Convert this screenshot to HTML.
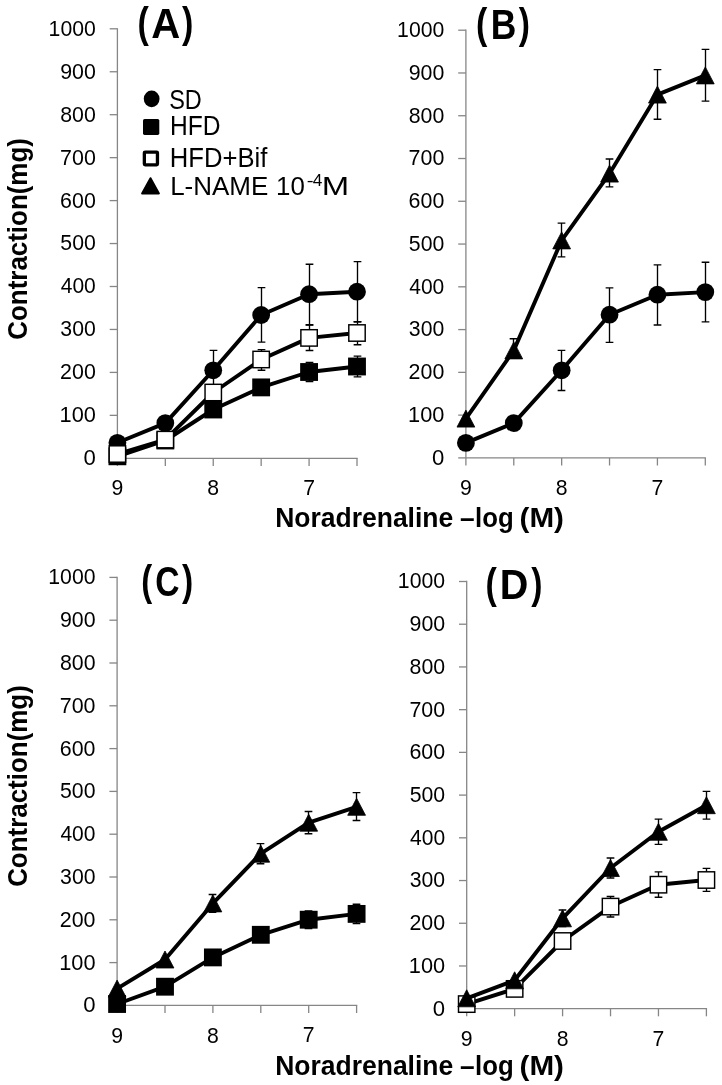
<!DOCTYPE html>
<html><head><meta charset="utf-8"><style>
html,body{margin:0;padding:0;background:#fff;}
body{width:722px;height:1085px;overflow:hidden;}
svg{display:block;will-change:transform;font-family:"Liberation Sans",sans-serif;}
text{fill:#000;}
</style></head><body>
<svg width="722" height="1085" viewBox="0 0 722 1085">
<rect width="722" height="1085" fill="#fff"/>
<g stroke="#868686" stroke-width="1.3" fill="none" shape-rendering="auto">
<path d="M117.40 28.15V458.30"/>
<path d="M109.70 458.30H117.40"/>
<path d="M109.70 415.35H117.40"/>
<path d="M109.70 372.40H117.40"/>
<path d="M109.70 329.45H117.40"/>
<path d="M109.70 286.50H117.40"/>
<path d="M109.70 243.55H117.40"/>
<path d="M109.70 200.60H117.40"/>
<path d="M109.70 157.65H117.40"/>
<path d="M109.70 114.70H117.40"/>
<path d="M109.70 71.75H117.40"/>
<path d="M109.70 28.80H117.40"/>
<path d="M117.40 458.30H357.65"/>
<path d="M117.40 458.30V465.90"/>
<path d="M165.32 458.30V465.90"/>
<path d="M213.24 458.30V465.90"/>
<path d="M261.16 458.30V465.90"/>
<path d="M309.08 458.30V465.90"/>
<path d="M357.00 458.30V465.90"/>
</g>
<text x="83.53" y="465.20" font-size="21.20" font-weight="normal" textLength="12.33" lengthAdjust="spacingAndGlyphs">0</text>
<text x="59.54" y="422.25" font-size="21.20" font-weight="normal" textLength="36.31" lengthAdjust="spacingAndGlyphs">100</text>
<text x="60.12" y="379.30" font-size="21.20" font-weight="normal" textLength="35.71" lengthAdjust="spacingAndGlyphs">200</text>
<text x="60.39" y="336.35" font-size="21.20" font-weight="normal" textLength="35.44" lengthAdjust="spacingAndGlyphs">300</text>
<text x="60.72" y="293.40" font-size="21.20" font-weight="normal" textLength="35.10" lengthAdjust="spacingAndGlyphs">400</text>
<text x="60.35" y="250.45" font-size="21.20" font-weight="normal" textLength="35.48" lengthAdjust="spacingAndGlyphs">500</text>
<text x="60.11" y="207.50" font-size="21.20" font-weight="normal" textLength="35.72" lengthAdjust="spacingAndGlyphs">600</text>
<text x="60.10" y="164.55" font-size="21.20" font-weight="normal" textLength="35.73" lengthAdjust="spacingAndGlyphs">700</text>
<text x="60.27" y="121.60" font-size="21.20" font-weight="normal" textLength="35.56" lengthAdjust="spacingAndGlyphs">800</text>
<text x="60.20" y="78.65" font-size="21.20" font-weight="normal" textLength="35.64" lengthAdjust="spacingAndGlyphs">900</text>
<text x="48.58" y="35.70" font-size="21.20" font-weight="normal" textLength="47.25" lengthAdjust="spacingAndGlyphs">1000</text>
<text x="111.51" y="495.40" font-size="21.20">9</text>
<text x="207.34" y="495.40" font-size="21.20">8</text>
<text x="303.17" y="495.19" font-size="21.20">7</text>
<text x="151.20" y="38.30" font-size="42.59" font-weight="bold" textLength="28.96" lengthAdjust="spacingAndGlyphs">A</text>
<text x="137.61" y="37.10" font-size="42.59" font-weight="bold" textLength="11.33" lengthAdjust="spacingAndGlyphs">(</text>
<text x="182.07" y="37.10" font-size="42.59" font-weight="bold" textLength="11.33" lengthAdjust="spacingAndGlyphs">)</text>
<polyline points="117.40,442.80 165.32,423.10 213.24,370.30 261.16,315.00 309.08,294.20 357.00,291.70" fill="none" stroke="#000" stroke-width="3.90" stroke-linejoin="round" stroke-linecap="round"/>
<path d="M117.50 438.00V447.60M113.65 438.00H121.35M113.65 447.60H121.35M165.50 418.00V428.20M161.65 418.00H169.35M161.65 428.20H169.35M213.50 350.40V390.20M209.65 350.40H217.35M209.65 390.20H217.35M261.50 287.60V342.10M257.65 287.60H265.35M257.65 342.10H265.35M309.50 264.20V324.70M305.65 264.20H313.35M305.65 324.70H313.35M357.50 261.60V321.70M353.65 261.60H361.35M353.65 321.70H361.35" stroke="#000" stroke-width="1.35" fill="none"/>
<circle cx="117.40" cy="442.80" r="8.90" fill="#000"/>
<circle cx="165.32" cy="423.10" r="8.90" fill="#000"/>
<circle cx="213.24" cy="370.30" r="8.90" fill="#000"/>
<circle cx="261.16" cy="315.00" r="8.90" fill="#000"/>
<circle cx="309.08" cy="294.20" r="8.90" fill="#000"/>
<circle cx="357.00" cy="291.70" r="8.90" fill="#000"/>
<polyline points="117.40,456.30 165.32,440.50 213.24,409.50 261.16,387.40 309.08,372.00 357.00,366.50" fill="none" stroke="#000" stroke-width="3.90" stroke-linejoin="round" stroke-linecap="round"/>
<path d="M213.50 404.00V415.00M209.65 404.00H217.35M209.65 415.00H217.35M261.50 381.00V393.80M257.65 381.00H265.35M257.65 393.80H265.35M309.50 362.40V381.60M305.65 362.40H313.35M305.65 381.60H313.35M357.50 356.10V376.90M353.65 356.10H361.35M353.65 376.90H361.35" stroke="#000" stroke-width="1.35" fill="none"/>
<rect x="108.48" y="447.38" width="17.85" height="17.85" fill="#000"/>
<rect x="156.39" y="431.57" width="17.85" height="17.85" fill="#000"/>
<rect x="204.31" y="400.57" width="17.85" height="17.85" fill="#000"/>
<rect x="252.23" y="378.47" width="17.85" height="17.85" fill="#000"/>
<rect x="300.16" y="363.07" width="17.85" height="17.85" fill="#000"/>
<rect x="348.07" y="357.57" width="17.85" height="17.85" fill="#000"/>
<polyline points="117.40,454.00 165.32,439.60 213.24,392.50 261.16,359.50 309.08,337.90 357.00,333.00" fill="none" stroke="#000" stroke-width="3.90" stroke-linejoin="round" stroke-linecap="round"/>
<path d="M213.50 386.00V399.00M209.65 386.00H217.35M209.65 399.00H217.35M261.50 349.60V370.20M257.65 349.60H265.35M257.65 370.20H265.35M309.50 325.05V350.50M305.65 325.05H313.35M305.65 350.50H313.35M357.50 321.70V344.70M353.65 321.70H361.35M353.65 344.70H361.35" stroke="#000" stroke-width="1.35" fill="none"/>
<rect x="109.20" y="445.80" width="16.40" height="16.40" fill="#fff" stroke="#000" stroke-width="1.45"/>
<rect x="157.12" y="431.40" width="16.40" height="16.40" fill="#fff" stroke="#000" stroke-width="1.45"/>
<rect x="205.04" y="384.30" width="16.40" height="16.40" fill="#fff" stroke="#000" stroke-width="1.45"/>
<rect x="252.96" y="351.30" width="16.40" height="16.40" fill="#fff" stroke="#000" stroke-width="1.45"/>
<rect x="300.88" y="329.70" width="16.40" height="16.40" fill="#fff" stroke="#000" stroke-width="1.45"/>
<rect x="348.80" y="324.80" width="16.40" height="16.40" fill="#fff" stroke="#000" stroke-width="1.45"/>
<g stroke="#868686" stroke-width="1.3" fill="none" shape-rendering="auto">
<path d="M465.90 29.55V457.90"/>
<path d="M458.20 457.90H465.90"/>
<path d="M458.20 415.13H465.90"/>
<path d="M458.20 372.36H465.90"/>
<path d="M458.20 329.59H465.90"/>
<path d="M458.20 286.82H465.90"/>
<path d="M458.20 244.05H465.90"/>
<path d="M458.20 201.28H465.90"/>
<path d="M458.20 158.51H465.90"/>
<path d="M458.20 115.74H465.90"/>
<path d="M458.20 72.97H465.90"/>
<path d="M458.20 30.20H465.90"/>
<path d="M465.90 457.90H705.95"/>
<path d="M465.90 457.90V465.50"/>
<path d="M513.78 457.90V465.50"/>
<path d="M561.66 457.90V465.50"/>
<path d="M609.54 457.90V465.50"/>
<path d="M657.42 457.90V465.50"/>
<path d="M705.30 457.90V465.50"/>
</g>
<text x="432.03" y="464.80" font-size="21.20" font-weight="normal" textLength="12.33" lengthAdjust="spacingAndGlyphs">0</text>
<text x="408.04" y="422.03" font-size="21.20" font-weight="normal" textLength="36.31" lengthAdjust="spacingAndGlyphs">100</text>
<text x="408.62" y="379.26" font-size="21.20" font-weight="normal" textLength="35.71" lengthAdjust="spacingAndGlyphs">200</text>
<text x="408.89" y="336.49" font-size="21.20" font-weight="normal" textLength="35.44" lengthAdjust="spacingAndGlyphs">300</text>
<text x="409.22" y="293.72" font-size="21.20" font-weight="normal" textLength="35.10" lengthAdjust="spacingAndGlyphs">400</text>
<text x="408.85" y="250.95" font-size="21.20" font-weight="normal" textLength="35.48" lengthAdjust="spacingAndGlyphs">500</text>
<text x="408.61" y="208.18" font-size="21.20" font-weight="normal" textLength="35.72" lengthAdjust="spacingAndGlyphs">600</text>
<text x="408.60" y="165.41" font-size="21.20" font-weight="normal" textLength="35.73" lengthAdjust="spacingAndGlyphs">700</text>
<text x="408.77" y="122.64" font-size="21.20" font-weight="normal" textLength="35.56" lengthAdjust="spacingAndGlyphs">800</text>
<text x="408.70" y="79.87" font-size="21.20" font-weight="normal" textLength="35.64" lengthAdjust="spacingAndGlyphs">900</text>
<text x="397.08" y="37.10" font-size="21.20" font-weight="normal" textLength="47.25" lengthAdjust="spacingAndGlyphs">1000</text>
<text x="460.01" y="495.00" font-size="21.20">9</text>
<text x="555.76" y="495.00" font-size="21.20">8</text>
<text x="651.51" y="494.79" font-size="21.20">7</text>
<text x="490.73" y="39.00" font-size="41.72" font-weight="bold" textLength="25.58" lengthAdjust="spacingAndGlyphs">B</text>
<text x="476.01" y="37.80" font-size="41.72" font-weight="bold" textLength="11.33" lengthAdjust="spacingAndGlyphs">(</text>
<text x="518.87" y="37.80" font-size="41.72" font-weight="bold" textLength="11.21" lengthAdjust="spacingAndGlyphs">)</text>
<polyline points="465.90,442.90 513.78,423.10 561.66,370.30 609.54,314.70 657.42,294.70 705.30,292.10" fill="none" stroke="#000" stroke-width="3.90" stroke-linejoin="round" stroke-linecap="round"/>
<path d="M465.50 438.00V447.80M461.65 438.00H469.35M461.65 447.80H469.35M513.50 418.00V428.20M509.65 418.00H517.35M509.65 428.20H517.35M561.50 350.40V390.50M557.65 350.40H565.35M557.65 390.50H565.35M609.50 287.80V342.30M605.65 287.80H613.35M605.65 342.30H613.35M657.50 264.80V325.00M653.65 264.80H661.35M653.65 325.00H661.35M705.50 262.20V321.80M701.65 262.20H709.35M701.65 321.80H709.35" stroke="#000" stroke-width="1.35" fill="none"/>
<circle cx="465.90" cy="442.90" r="8.90" fill="#000"/>
<circle cx="513.78" cy="423.10" r="8.90" fill="#000"/>
<circle cx="561.66" cy="370.30" r="8.90" fill="#000"/>
<circle cx="609.54" cy="314.70" r="8.90" fill="#000"/>
<circle cx="657.42" cy="294.70" r="8.90" fill="#000"/>
<circle cx="705.30" cy="292.10" r="8.90" fill="#000"/>
<polyline points="465.90,418.60 513.78,350.40 561.66,240.40 609.54,173.60 657.42,94.60 705.30,75.40" fill="none" stroke="#000" stroke-width="3.90" stroke-linejoin="round" stroke-linecap="round"/>
<path d="M513.50 338.70V356.00M509.65 338.70H517.35M509.65 356.00H517.35M561.50 223.10V256.80M557.65 223.10H565.35M557.65 256.80H565.35M609.50 159.00V186.80M605.65 159.00H613.35M605.65 186.80H613.35M657.50 69.60V119.20M653.65 69.60H661.35M653.65 119.20H661.35M705.50 49.40V101.10M701.65 49.40H709.35M701.65 101.10H709.35" stroke="#000" stroke-width="1.35" fill="none"/>
<path d="M465.90 410.10L474.80 427.10L457.00 427.10Z" fill="#000" stroke="#000" stroke-width="0.8" stroke-linejoin="round"/>
<path d="M513.78 341.90L522.68 358.90L504.88 358.90Z" fill="#000" stroke="#000" stroke-width="0.8" stroke-linejoin="round"/>
<path d="M561.66 231.90L570.56 248.90L552.76 248.90Z" fill="#000" stroke="#000" stroke-width="0.8" stroke-linejoin="round"/>
<path d="M609.54 165.10L618.44 182.10L600.64 182.10Z" fill="#000" stroke="#000" stroke-width="0.8" stroke-linejoin="round"/>
<path d="M657.42 86.10L666.32 103.10L648.52 103.10Z" fill="#000" stroke="#000" stroke-width="0.8" stroke-linejoin="round"/>
<path d="M705.30 66.90L714.20 83.90L696.40 83.90Z" fill="#000" stroke="#000" stroke-width="0.8" stroke-linejoin="round"/>
<g stroke="#868686" stroke-width="1.3" fill="none" shape-rendering="auto">
<path d="M117.10 576.75V1005.40"/>
<path d="M109.40 1005.40H117.10"/>
<path d="M109.40 962.60H117.10"/>
<path d="M109.40 919.80H117.10"/>
<path d="M109.40 877.00H117.10"/>
<path d="M109.40 834.20H117.10"/>
<path d="M109.40 791.40H117.10"/>
<path d="M109.40 748.60H117.10"/>
<path d="M109.40 705.80H117.10"/>
<path d="M109.40 663.00H117.10"/>
<path d="M109.40 620.20H117.10"/>
<path d="M109.40 577.40H117.10"/>
<path d="M117.10 1005.40H357.25"/>
<path d="M117.10 1005.40V1013.00"/>
<path d="M165.00 1005.40V1013.00"/>
<path d="M212.90 1005.40V1013.00"/>
<path d="M260.80 1005.40V1013.00"/>
<path d="M308.70 1005.40V1013.00"/>
<path d="M356.60 1005.40V1013.00"/>
</g>
<text x="83.23" y="1012.30" font-size="21.20" font-weight="normal" textLength="12.33" lengthAdjust="spacingAndGlyphs">0</text>
<text x="59.24" y="969.50" font-size="21.20" font-weight="normal" textLength="36.31" lengthAdjust="spacingAndGlyphs">100</text>
<text x="59.82" y="926.70" font-size="21.20" font-weight="normal" textLength="35.71" lengthAdjust="spacingAndGlyphs">200</text>
<text x="60.09" y="883.90" font-size="21.20" font-weight="normal" textLength="35.44" lengthAdjust="spacingAndGlyphs">300</text>
<text x="60.42" y="841.10" font-size="21.20" font-weight="normal" textLength="35.10" lengthAdjust="spacingAndGlyphs">400</text>
<text x="60.05" y="798.30" font-size="21.20" font-weight="normal" textLength="35.48" lengthAdjust="spacingAndGlyphs">500</text>
<text x="59.81" y="755.50" font-size="21.20" font-weight="normal" textLength="35.72" lengthAdjust="spacingAndGlyphs">600</text>
<text x="59.80" y="712.70" font-size="21.20" font-weight="normal" textLength="35.73" lengthAdjust="spacingAndGlyphs">700</text>
<text x="59.97" y="669.90" font-size="21.20" font-weight="normal" textLength="35.56" lengthAdjust="spacingAndGlyphs">800</text>
<text x="59.90" y="627.10" font-size="21.20" font-weight="normal" textLength="35.64" lengthAdjust="spacingAndGlyphs">900</text>
<text x="48.28" y="584.30" font-size="21.20" font-weight="normal" textLength="47.25" lengthAdjust="spacingAndGlyphs">1000</text>
<text x="111.21" y="1042.50" font-size="21.20">9</text>
<text x="207.00" y="1042.50" font-size="21.20">8</text>
<text x="302.79" y="1042.29" font-size="21.20">7</text>
<text x="155.32" y="595.70" font-size="42.59" font-weight="bold" textLength="24.30" lengthAdjust="spacingAndGlyphs">C</text>
<text x="141.16" y="594.50" font-size="42.59" font-weight="bold" textLength="10.97" lengthAdjust="spacingAndGlyphs">(</text>
<text x="182.07" y="594.50" font-size="42.59" font-weight="bold" textLength="11.21" lengthAdjust="spacingAndGlyphs">)</text>
<polyline points="117.10,1004.00 165.00,986.70 212.90,957.40 260.80,934.80 308.70,919.70 356.60,913.90" fill="none" stroke="#000" stroke-width="3.90" stroke-linejoin="round" stroke-linecap="round"/>
<path d="M260.50 929.00V941.00M256.65 929.00H264.35M256.65 941.00H264.35M308.50 911.00V928.50M304.65 911.00H312.35M304.65 928.50H312.35M356.50 904.20V923.60M352.65 904.20H360.35M352.65 923.60H360.35" stroke="#000" stroke-width="1.35" fill="none"/>
<rect x="108.17" y="995.08" width="17.85" height="17.85" fill="#000"/>
<rect x="156.07" y="977.78" width="17.85" height="17.85" fill="#000"/>
<rect x="203.97" y="948.48" width="17.85" height="17.85" fill="#000"/>
<rect x="251.87" y="925.88" width="17.85" height="17.85" fill="#000"/>
<rect x="299.77" y="910.78" width="17.85" height="17.85" fill="#000"/>
<rect x="347.68" y="904.98" width="17.85" height="17.85" fill="#000"/>
<polyline points="117.10,988.60 165.00,959.50 212.90,903.40 260.80,853.70 308.70,822.70 356.60,806.80" fill="none" stroke="#000" stroke-width="3.90" stroke-linejoin="round" stroke-linecap="round"/>
<path d="M212.50 894.50V912.30M208.65 894.50H216.35M208.65 912.30H216.35M260.50 843.60V863.70M256.65 843.60H264.35M256.65 863.70H264.35M308.50 811.50V833.70M304.65 811.50H312.35M304.65 833.70H312.35M356.50 792.60V820.50M352.65 792.60H360.35M352.65 820.50H360.35" stroke="#000" stroke-width="1.35" fill="none"/>
<path d="M117.10 980.10L126.00 997.10L108.20 997.10Z" fill="#000" stroke="#000" stroke-width="0.8" stroke-linejoin="round"/>
<path d="M165.00 951.00L173.90 968.00L156.10 968.00Z" fill="#000" stroke="#000" stroke-width="0.8" stroke-linejoin="round"/>
<path d="M212.90 894.90L221.80 911.90L204.00 911.90Z" fill="#000" stroke="#000" stroke-width="0.8" stroke-linejoin="round"/>
<path d="M260.80 845.20L269.70 862.20L251.90 862.20Z" fill="#000" stroke="#000" stroke-width="0.8" stroke-linejoin="round"/>
<path d="M308.70 814.20L317.60 831.20L299.80 831.20Z" fill="#000" stroke="#000" stroke-width="0.8" stroke-linejoin="round"/>
<path d="M356.60 798.30L365.50 815.30L347.70 815.30Z" fill="#000" stroke="#000" stroke-width="0.8" stroke-linejoin="round"/>
<g stroke="#868686" stroke-width="1.3" fill="none" shape-rendering="auto">
<path d="M466.70 580.85V1008.70"/>
<path d="M459.00 1008.70H466.70"/>
<path d="M459.00 965.98H466.70"/>
<path d="M459.00 923.26H466.70"/>
<path d="M459.00 880.54H466.70"/>
<path d="M459.00 837.82H466.70"/>
<path d="M459.00 795.10H466.70"/>
<path d="M459.00 752.38H466.70"/>
<path d="M459.00 709.66H466.70"/>
<path d="M459.00 666.94H466.70"/>
<path d="M459.00 624.22H466.70"/>
<path d="M459.00 581.50H466.70"/>
<path d="M466.70 1008.70H707.05"/>
<path d="M466.70 1008.70V1016.30"/>
<path d="M514.64 1008.70V1016.30"/>
<path d="M562.58 1008.70V1016.30"/>
<path d="M610.52 1008.70V1016.30"/>
<path d="M658.46 1008.70V1016.30"/>
<path d="M706.40 1008.70V1016.30"/>
</g>
<text x="432.83" y="1015.60" font-size="21.20" font-weight="normal" textLength="12.33" lengthAdjust="spacingAndGlyphs">0</text>
<text x="408.84" y="972.88" font-size="21.20" font-weight="normal" textLength="36.31" lengthAdjust="spacingAndGlyphs">100</text>
<text x="409.42" y="930.16" font-size="21.20" font-weight="normal" textLength="35.71" lengthAdjust="spacingAndGlyphs">200</text>
<text x="409.69" y="887.44" font-size="21.20" font-weight="normal" textLength="35.44" lengthAdjust="spacingAndGlyphs">300</text>
<text x="410.02" y="844.72" font-size="21.20" font-weight="normal" textLength="35.10" lengthAdjust="spacingAndGlyphs">400</text>
<text x="409.65" y="802.00" font-size="21.20" font-weight="normal" textLength="35.48" lengthAdjust="spacingAndGlyphs">500</text>
<text x="409.41" y="759.28" font-size="21.20" font-weight="normal" textLength="35.72" lengthAdjust="spacingAndGlyphs">600</text>
<text x="409.40" y="716.56" font-size="21.20" font-weight="normal" textLength="35.73" lengthAdjust="spacingAndGlyphs">700</text>
<text x="409.57" y="673.84" font-size="21.20" font-weight="normal" textLength="35.56" lengthAdjust="spacingAndGlyphs">800</text>
<text x="409.50" y="631.12" font-size="21.20" font-weight="normal" textLength="35.64" lengthAdjust="spacingAndGlyphs">900</text>
<text x="397.88" y="588.40" font-size="21.20" font-weight="normal" textLength="47.25" lengthAdjust="spacingAndGlyphs">1000</text>
<text x="460.81" y="1045.80" font-size="21.20">9</text>
<text x="556.68" y="1045.80" font-size="21.20">8</text>
<text x="652.55" y="1045.59" font-size="21.20">7</text>
<text x="499.85" y="599.10" font-size="42.30" font-weight="bold" textLength="28.61" lengthAdjust="spacingAndGlyphs">D</text>
<text x="485.61" y="597.90" font-size="42.30" font-weight="bold" textLength="11.33" lengthAdjust="spacingAndGlyphs">(</text>
<text x="531.37" y="597.90" font-size="42.30" font-weight="bold" textLength="11.21" lengthAdjust="spacingAndGlyphs">)</text>
<polyline points="466.70,1004.10 514.64,988.90 562.58,941.00 610.52,906.60 658.46,884.70 706.40,880.00" fill="none" stroke="#000" stroke-width="3.90" stroke-linejoin="round" stroke-linecap="round"/>
<path d="M562.50 934.00V948.00M558.65 934.00H566.35M558.65 948.00H566.35M610.50 896.50V917.00M606.65 896.50H614.35M606.65 917.00H614.35M658.50 871.80V897.20M654.65 871.80H662.35M654.65 897.20H662.35M706.50 868.30V891.30M702.65 868.30H710.35M702.65 891.30H710.35" stroke="#000" stroke-width="1.35" fill="none"/>
<rect x="458.50" y="995.90" width="16.40" height="16.40" fill="#fff" stroke="#000" stroke-width="1.45"/>
<rect x="506.44" y="980.70" width="16.40" height="16.40" fill="#fff" stroke="#000" stroke-width="1.45"/>
<rect x="554.38" y="932.80" width="16.40" height="16.40" fill="#fff" stroke="#000" stroke-width="1.45"/>
<rect x="602.32" y="898.40" width="16.40" height="16.40" fill="#fff" stroke="#000" stroke-width="1.45"/>
<rect x="650.26" y="876.50" width="16.40" height="16.40" fill="#fff" stroke="#000" stroke-width="1.45"/>
<rect x="698.20" y="871.80" width="16.40" height="16.40" fill="#fff" stroke="#000" stroke-width="1.45"/>
<polyline points="466.70,998.30 514.64,980.30 562.58,918.30 610.52,868.00 658.46,831.80 706.40,805.20" fill="none" stroke="#000" stroke-width="3.90" stroke-linejoin="round" stroke-linecap="round"/>
<path d="M562.50 910.00V926.60M558.65 910.00H566.35M558.65 926.60H566.35M610.50 858.00V878.00M606.65 858.00H614.35M606.65 878.00H614.35M658.50 819.10V844.30M654.65 819.10H662.35M654.65 844.30H662.35M706.50 791.30V819.10M702.65 791.30H710.35M702.65 819.10H710.35" stroke="#000" stroke-width="1.35" fill="none"/>
<path d="M466.70 989.80L475.60 1006.80L457.80 1006.80Z" fill="#000" stroke="#000" stroke-width="0.8" stroke-linejoin="round"/>
<path d="M514.64 971.80L523.54 988.80L505.74 988.80Z" fill="#000" stroke="#000" stroke-width="0.8" stroke-linejoin="round"/>
<path d="M562.58 909.80L571.48 926.80L553.68 926.80Z" fill="#000" stroke="#000" stroke-width="0.8" stroke-linejoin="round"/>
<path d="M610.52 859.50L619.42 876.50L601.62 876.50Z" fill="#000" stroke="#000" stroke-width="0.8" stroke-linejoin="round"/>
<path d="M658.46 823.30L667.36 840.30L649.56 840.30Z" fill="#000" stroke="#000" stroke-width="0.8" stroke-linejoin="round"/>
<path d="M706.40 796.70L715.30 813.70L697.50 813.70Z" fill="#000" stroke="#000" stroke-width="0.8" stroke-linejoin="round"/>
<text x="275.23" y="526.60" font-size="27.04" font-weight="bold" textLength="177.98" lengthAdjust="spacingAndGlyphs">Noradrenaline</text>
<text x="460.11" y="526.60" font-size="27.04" font-weight="bold" textLength="14.60" lengthAdjust="spacingAndGlyphs">–</text>
<text x="475.10" y="526.60" font-size="27.04" font-weight="bold" textLength="38.62" lengthAdjust="spacingAndGlyphs">log</text>
<text x="519.52" y="526.60" font-size="27.04" font-weight="bold" textLength="44.45" lengthAdjust="spacingAndGlyphs">(M)</text>
<text x="275.23" y="1074.60" font-size="27.04" font-weight="bold" textLength="177.98" lengthAdjust="spacingAndGlyphs">Noradrenaline</text>
<text x="460.11" y="1074.60" font-size="27.04" font-weight="bold" textLength="14.60" lengthAdjust="spacingAndGlyphs">–</text>
<text x="475.10" y="1074.60" font-size="27.04" font-weight="bold" textLength="38.62" lengthAdjust="spacingAndGlyphs">log</text>
<text x="519.52" y="1074.60" font-size="27.04" font-weight="bold" textLength="44.45" lengthAdjust="spacingAndGlyphs">(M)</text>
<text transform="translate(26.80 0) rotate(-90)" x="-339.76" y="0" font-size="27.04" font-weight="bold" textLength="201.65" lengthAdjust="spacingAndGlyphs">Contraction(mg)</text>
<text transform="translate(26.80 0) rotate(-90)" x="-886.86" y="0" font-size="27.04" font-weight="bold" textLength="201.65" lengthAdjust="spacingAndGlyphs">Contraction(mg)</text>
<ellipse cx="151.65" cy="98.8" rx="7.9" ry="8.35" fill="#000"/>
<rect x="143.0" y="118.9" width="16.3" height="16.0" rx="1.6" fill="#000"/>
<rect x="144.35" y="152.05" width="13.1" height="12.8" rx="0.8" fill="#fff" stroke="#000" stroke-width="3.3"/>
<path d="M150.5 178.2L158.9 193.4L142.1 193.4Z" fill="#000" stroke="#000" stroke-width="2" stroke-linejoin="round"/>
<text x="169.13" y="108.80" font-size="26.74" font-weight="normal" textLength="32.59" lengthAdjust="spacingAndGlyphs">SD</text>
<text x="170.08" y="134.90" font-size="26.74" font-weight="normal" textLength="50.49" lengthAdjust="spacingAndGlyphs">HFD</text>
<text x="169.80" y="166.90" font-size="26.74" font-weight="normal" textLength="97.57" lengthAdjust="spacingAndGlyphs">HFD+Bif</text>
<text x="170.17" y="194.80" font-size="26.60" font-weight="normal" textLength="98.15" lengthAdjust="spacingAndGlyphs">L-NAME</text>
<text x="276.03" y="194.80" font-size="26.60" font-weight="normal" textLength="28.78" lengthAdjust="spacingAndGlyphs">10</text>
<text x="306.79" y="186.10" font-size="17.01" font-weight="normal" textLength="6.82" lengthAdjust="spacingAndGlyphs">-</text>
<text x="312.80" y="186.10" font-size="17.01" font-weight="normal" textLength="9.60" lengthAdjust="spacingAndGlyphs">4</text>
<text x="321.80" y="194.80" font-size="26.60" font-weight="normal" textLength="27.40" lengthAdjust="spacingAndGlyphs">M</text>
</svg>
</body></html>
